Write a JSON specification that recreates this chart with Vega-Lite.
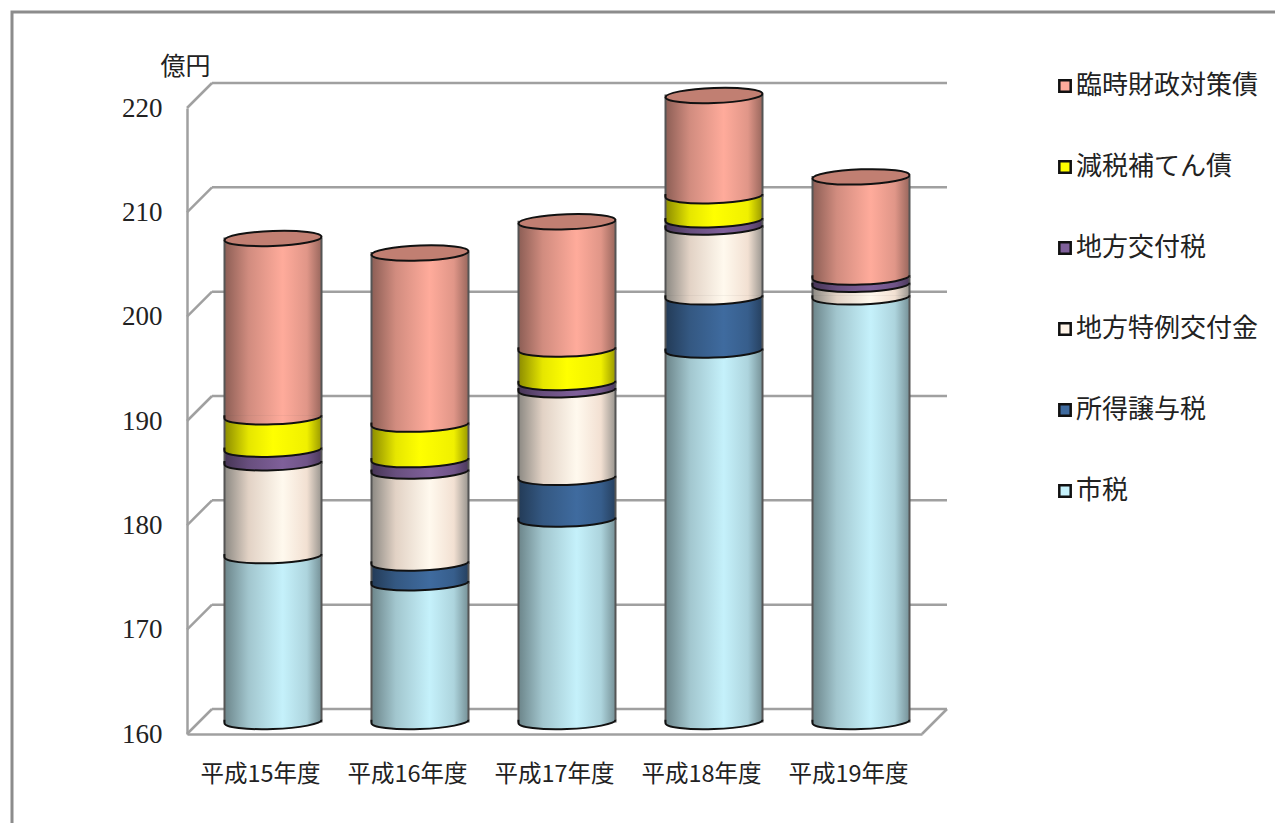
{
  "$schema": "https://vega.github.io/schema/vega-lite/v6.json",
  "width": 735,
  "height": 626,
  "autosize": {"type": "none"},
  "padding": {"left": 187, "top": 108, "right": 353, "bottom": 89},
  "background": "white",
  "config": {"view": {"stroke": null}},
  "data": {"values": [
    {"year": "平成15年度", "series": "市税", "value": 175.9},
    {"year": "平成15年度", "series": "地方特例交付金", "value": 8.9},
    {"year": "平成15年度", "series": "地方交付税", "value": 1.3},
    {"year": "平成15年度", "series": "減税補てん債", "value": 3.1},
    {"year": "平成15年度", "series": "臨時財政対策債", "value": 17.1},
    {"year": "平成16年度", "series": "市税", "value": 173.3},
    {"year": "平成16年度", "series": "所得譲与税", "value": 1.9},
    {"year": "平成16年度", "series": "地方特例交付金", "value": 8.8},
    {"year": "平成16年度", "series": "地方交付税", "value": 1.1},
    {"year": "平成16年度", "series": "減税補てん債", "value": 3.4},
    {"year": "平成16年度", "series": "臨時財政対策債", "value": 16.4},
    {"year": "平成17年度", "series": "市税", "value": 179.4},
    {"year": "平成17年度", "series": "所得譲与税", "value": 4.0},
    {"year": "平成17年度", "series": "地方特例交付金", "value": 8.4},
    {"year": "平成17年度", "series": "地方交付税", "value": 0.7},
    {"year": "平成17年度", "series": "減税補てん債", "value": 3.2},
    {"year": "平成17年度", "series": "臨時財政対策債", "value": 12.2},
    {"year": "平成18年度", "series": "市税", "value": 195.6},
    {"year": "平成18年度", "series": "所得譲与税", "value": 5.1},
    {"year": "平成18年度", "series": "地方特例交付金", "value": 6.7},
    {"year": "平成18年度", "series": "地方交付税", "value": 0.7},
    {"year": "平成18年度", "series": "減税補てん債", "value": 2.3},
    {"year": "平成18年度", "series": "臨時財政対策債", "value": 9.7},
    {"year": "平成19年度", "series": "市税", "value": 200.7},
    {"year": "平成19年度", "series": "地方特例交付金", "value": 1.2},
    {"year": "平成19年度", "series": "地方交付税", "value": 0.7},
    {"year": "平成19年度", "series": "臨時財政対策債", "value": 9.6}
  ]},
  "transform": [{"stack": "value", "groupby": ["year"], "as": ["lo", "hi"]}],
  "encoding": {
    "x": {
      "field": "year", "type": "nominal", "title": null,
      "scale": {"paddingInner": 0, "paddingOuter": 0},
      "axis": {
        "labelAngle": 0, "labelFont": "Noto Sans CJK JP", "labelFontSize": 23.5, "labelColor": "#222",
        "labelPadding": 28, "ticks": false, "domainColor": "#a0a0a0", "domainWidth": 2.5, "grid": false
      }
    }
  },
  "layer": [
    {
      "data": {"values": [{"frame": "outer"}]},
      "mark": {"type": "rect", "fill": null, "stroke": "#8c8c8c", "strokeWidth": 3},
      "encoding": {
        "x": {"value": -175}, "x2": {"value": 1300},
        "y": {"value": -96}, "y2": {"value": 900}
      }
    },
    {
      "data": {"values": [{"tick": 160}, {"tick": 170}, {"tick": 180}, {"tick": 190}, {"tick": 200}, {"tick": 210}, {"tick": 220}]},
      "mark": {"type": "rule", "stroke": "#a0a0a0", "strokeWidth": 2.5, "xOffset": 25, "x2Offset": 25, "yOffset": -25},
      "encoding": {
        "x": {"value": 0}, "x2": {"value": 735},
        "y": {
          "field": "tick", "type": "quantitative", "title": "億円",
          "scale": {"domain": [160, 220], "clamp": true, "nice": false, "zero": false},
          "axis": {
            "values": [160, 170, 180, 190, 200, 210, 220], "ticks": false, "grid": false,
            "labelFont": "Liberation Serif", "labelFontSize": 27, "labelColor": "#222", "labelPadding": 25,
            "domainColor": "#a0a0a0", "domainWidth": 2.5,
            "titleFont": "Noto Sans CJK JP", "titleFontSize": 25, "titleFontWeight": "normal", "titleColor": "#222",
            "titleAngle": 0, "titleX": -2, "titleY": -42, "titleAlign": "center", "titleBaseline": "middle"
          }
        }
      }
    },
    {
      "data": {"values": [{"tick": 160}, {"tick": 170}, {"tick": 180}, {"tick": 190}, {"tick": 200}, {"tick": 210}, {"tick": 220}]},
      "mark": {"type": "rule", "stroke": "#a0a0a0", "strokeWidth": 2.5, "x2Offset": 25, "y2Offset": -25},
      "encoding": {
        "x": {"value": 0}, "x2": {"value": 0},
        "y": {"field": "tick", "type": "quantitative"},
        "y2": {"field": "tick"}
      }
    },
    {
      "data": {"values": [{"tick": 160}]},
      "mark": {"type": "rule", "stroke": "#a0a0a0", "strokeWidth": 2.5, "x2Offset": 25, "y2Offset": -25},
      "encoding": {
        "x": {"value": 735}, "x2": {"value": 735},
        "y": {"field": "tick", "type": "quantitative"},
        "y2": {"field": "tick"}
      }
    },
    {
      "mark": {"type": "bar", "width": 97, "xOffset": 12.5, "yOffset": -12.5, "y2Offset": -12.5, "stroke": "#555555", "strokeWidth": 2},
      "encoding": {
        "y": {"field": "hi", "type": "quantitative"},
        "y2": {"field": "lo"},
        "fill": {
          "condition": [
            {"test": "datum.series === '市税'", "value": {"gradient": "linear", "x1": 0, "y1": 0, "x2": 1, "y2": 0, "stops": [{"offset": 0, "color": "#6c858a"}, {"offset": 0.25, "color": "#a2c6ce"}, {"offset": 0.6, "color": "#c5f1fb"}, {"offset": 0.85, "color": "#add4dd"}, {"offset": 1, "color": "#769197"}]}},
            {"test": "datum.series === '所得譲与税'", "value": {"gradient": "linear", "x1": 0, "y1": 0, "x2": 1, "y2": 0, "stops": [{"offset": 0, "color": "#233b57"}, {"offset": 0.25, "color": "#345882"}, {"offset": 0.6, "color": "#3f6b9f"}, {"offset": 0.85, "color": "#375e8c"}, {"offset": 1, "color": "#26405f"}]}},
            {"test": "datum.series === '地方特例交付金'", "value": {"gradient": "linear", "x1": 0, "y1": 0, "x2": 1, "y2": 0, "stops": [{"offset": 0, "color": "#8c8983"}, {"offset": 0.25, "color": "#e2d2c5"}, {"offset": 0.6, "color": "#fff9ee"}, {"offset": 0.85, "color": "#f2e0d2"}, {"offset": 1, "color": "#99958f"}]}},
            {"test": "datum.series === '地方交付税'", "value": {"gradient": "linear", "x1": 0, "y1": 0, "x2": 1, "y2": 0, "stops": [{"offset": 0, "color": "#463555"}, {"offset": 0.25, "color": "#684f7e"}, {"offset": 0.6, "color": "#7f609a"}, {"offset": 0.85, "color": "#705488"}, {"offset": 1, "color": "#4c3a5c"}]}},
            {"test": "datum.series === '減税補てん債'", "value": {"gradient": "linear", "x1": 0, "y1": 0, "x2": 1, "y2": 0, "stops": [{"offset": 0, "color": "#8c8c00"}, {"offset": 0.25, "color": "#e6e600"}, {"offset": 0.5, "color": "#ffff00"}, {"offset": 0.85, "color": "#f0f000"}, {"offset": 1, "color": "#999900"}]}}
          ],
          "value": {"gradient": "linear", "x1": 0, "y1": 0, "x2": 1, "y2": 0, "stops": [{"offset": 0, "color": "#8c5e55"}, {"offset": 0.25, "color": "#d18c7f"}, {"offset": 0.6, "color": "#ffab9b"}, {"offset": 0.85, "color": "#e09688"}, {"offset": 1, "color": "#99675d"}]}
        }
      }
    },
    {
      "mark": {
        "type": "point", "filled": false, "size": 9409, "opacity": 1, "xOffset": 12.5, "yOffset": -12.5,
        "shape": "M1,-0.035C1,0.0506 0.552,0.1357 0,0.155C-0.552,0.1743 -1,0.1206 -1,0.035L-1,-0.035",
        "stroke": "#111111", "strokeWidth": 2
      },
      "encoding": {
        "y": {"field": "lo", "type": "quantitative"},
        "fill": {
          "condition": [
            {"test": "datum.series === '市税'", "value": {"gradient": "linear", "x1": 0, "y1": 0, "x2": 1, "y2": 0, "stops": [{"offset": 0, "color": "#6c858a"}, {"offset": 0.25, "color": "#a2c6ce"}, {"offset": 0.6, "color": "#c5f1fb"}, {"offset": 0.85, "color": "#add4dd"}, {"offset": 1, "color": "#769197"}]}},
            {"test": "datum.series === '所得譲与税'", "value": {"gradient": "linear", "x1": 0, "y1": 0, "x2": 1, "y2": 0, "stops": [{"offset": 0, "color": "#233b57"}, {"offset": 0.25, "color": "#345882"}, {"offset": 0.6, "color": "#3f6b9f"}, {"offset": 0.85, "color": "#375e8c"}, {"offset": 1, "color": "#26405f"}]}},
            {"test": "datum.series === '地方特例交付金'", "value": {"gradient": "linear", "x1": 0, "y1": 0, "x2": 1, "y2": 0, "stops": [{"offset": 0, "color": "#8c8983"}, {"offset": 0.25, "color": "#e2d2c5"}, {"offset": 0.6, "color": "#fff9ee"}, {"offset": 0.85, "color": "#f2e0d2"}, {"offset": 1, "color": "#99958f"}]}},
            {"test": "datum.series === '地方交付税'", "value": {"gradient": "linear", "x1": 0, "y1": 0, "x2": 1, "y2": 0, "stops": [{"offset": 0, "color": "#463555"}, {"offset": 0.25, "color": "#684f7e"}, {"offset": 0.6, "color": "#7f609a"}, {"offset": 0.85, "color": "#705488"}, {"offset": 1, "color": "#4c3a5c"}]}},
            {"test": "datum.series === '減税補てん債'", "value": {"gradient": "linear", "x1": 0, "y1": 0, "x2": 1, "y2": 0, "stops": [{"offset": 0, "color": "#8c8c00"}, {"offset": 0.25, "color": "#e6e600"}, {"offset": 0.5, "color": "#ffff00"}, {"offset": 0.85, "color": "#f0f000"}, {"offset": 1, "color": "#999900"}]}}
          ],
          "value": {"gradient": "linear", "x1": 0, "y1": 0, "x2": 1, "y2": 0, "stops": [{"offset": 0, "color": "#8c5e55"}, {"offset": 0.25, "color": "#d18c7f"}, {"offset": 0.6, "color": "#ffab9b"}, {"offset": 0.85, "color": "#e09688"}, {"offset": 1, "color": "#99675d"}]}
        }
      }
    },
    {
      "transform": [{"filter": "datum.series === '臨時財政対策債'"}],
      "mark": {
        "type": "point", "filled": false, "size": 9409, "opacity": 1, "xOffset": 12.5, "yOffset": -12.5,
        "shape": "M-1,0.035C-1,-0.0506 -0.552,-0.1357 0,-0.155C0.552,-0.1743 1,-0.1206 1,-0.035C1,0.0506 0.552,0.1357 0,0.155C-0.552,0.1743 -1,0.1206 -1,0.035Z",
        "fill": "#c17f72", "stroke": "#111111", "strokeWidth": 2
      },
      "encoding": {"y": {"field": "hi", "type": "quantitative"}}
    },
    {
      "mark": {"type": "point", "filled": true, "opacity": 0},
      "encoding": {
        "y": {"field": "hi", "type": "quantitative"},
        "color": {
          "field": "series", "type": "nominal",
          "scale": {
            "domain": ["臨時財政対策債", "減税補てん債", "地方交付税", "地方特例交付金", "所得譲与税", "市税"],
            "range": ["#ffab9b", "#ffff00", "#7f609a", "#fff4e8", "#3f6b9f", "#c5f1fb"]
          },
          "legend": {
            "title": null, "orient": "none", "legendX": 865, "legendY": -35,
            "symbolType": "square", "symbolSize": 130, "symbolOpacity": 1,
            "symbolStrokeColor": "#111111", "symbolStrokeWidth": 2.5,
            "labelFont": "Noto Sans CJK JP", "labelFontSize": 26, "labelColor": "#222",
            "labelOffset": -2, "rowPadding": 55, "labelLimit": 300
          }
        }
      }
    }
  ]
}
